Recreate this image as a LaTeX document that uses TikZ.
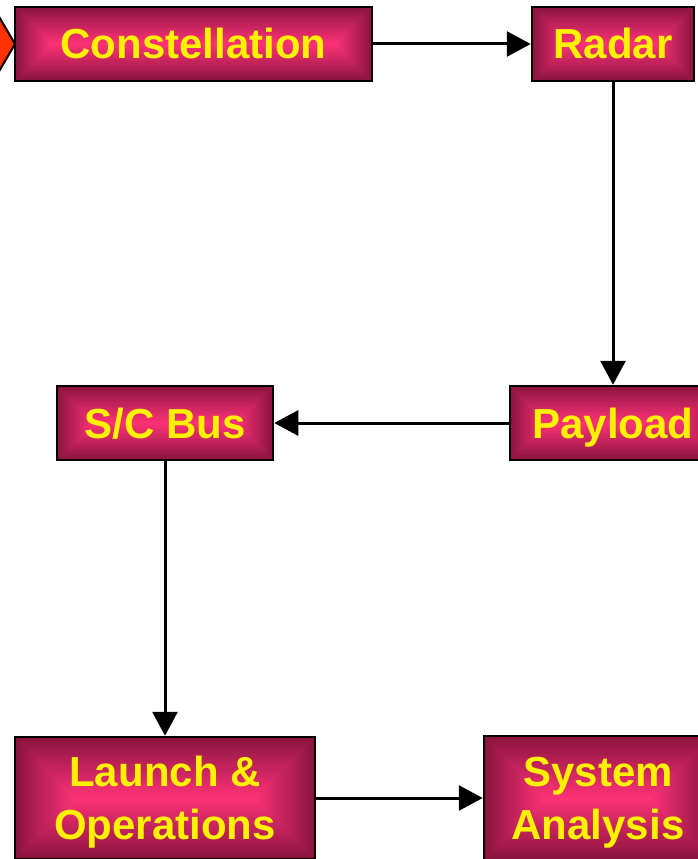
\documentclass[tikz,border=0pt]{standalone}
\usepackage{fontspec}
\setmainfont{Liberation Sans}
\usetikzlibrary{arrows.meta,calc}
\definecolor{edgec}{RGB}{138,20,62}
\definecolor{cenc}{RGB}{255,50,120}
\definecolor{arrowred}{RGB}{255,51,0}
\tikzset{
  gbox/.style 2 args={draw=black, line width=2.5pt, minimum width=#1, minimum height=#2,
    inner sep=0pt, text=yellow, font=\fontsize{42}{53}\selectfont\bfseries, align=center,
    path picture={
      \foreach \i in {0,...,30}{
        \pgfmathsetmacro\pc{100*(\i/30)}
        \fill[cenc!\pc!edgec] let \p1=(path picture bounding box.south west),
          \p2=(path picture bounding box.north east), \n1={(\y2-\y1)/60}
          in ({\x1+\i*\n1},{\y1+\i*\n1}) rectangle ({\x2-\i*\n1},{\y2-\i*\n1});
      }
    }},
  oneline/.style={text height=30pt, text depth=0pt},
  twoline/.style={text height=83pt, text depth=0pt},
  link/.style={line width=3pt, -{Triangle[length=24pt,width=25pt]}}
}
\begin{document}
\begin{tikzpicture}[x=1pt,y=-1pt]
\useasboundingbox (0,0) rectangle (698,859);
\clip (0,0) rectangle (698,859);
\fill[white] (0,0) rectangle (698,859);
\filldraw[fill=arrowred, draw=black, line width=2pt] (15,44) -- (-13,-4) -- (-41,44) -- (-13,92) -- cycle;
\node[gbox={357pt}{74pt}, oneline] (con) at (193.5,44) {Constellation};
\node[gbox={162pt}{74pt}, oneline] (radar) at (613,44) {Radar};
\node[gbox={206pt}{74pt}, oneline] (pay) at (613,423) {Payload};
\node[gbox={216pt}{74pt}, oneline] (bus) at (165,423) {S/C Bus};
\node[gbox={300pt}{122pt}, twoline] (launch) at (165,798) {Launch \&\\Operations};
\node[gbox={228pt}{124pt}, twoline] (sys) at (598,798) {System\\Analysis};
\draw[link] (con) -- (radar);
\draw[link] (radar) -- (pay);
\draw[link] (pay) -- (bus);
\draw[link] (bus) -- (launch);
\draw[link] (launch) -- (sys);
\end{tikzpicture}
\end{document}
